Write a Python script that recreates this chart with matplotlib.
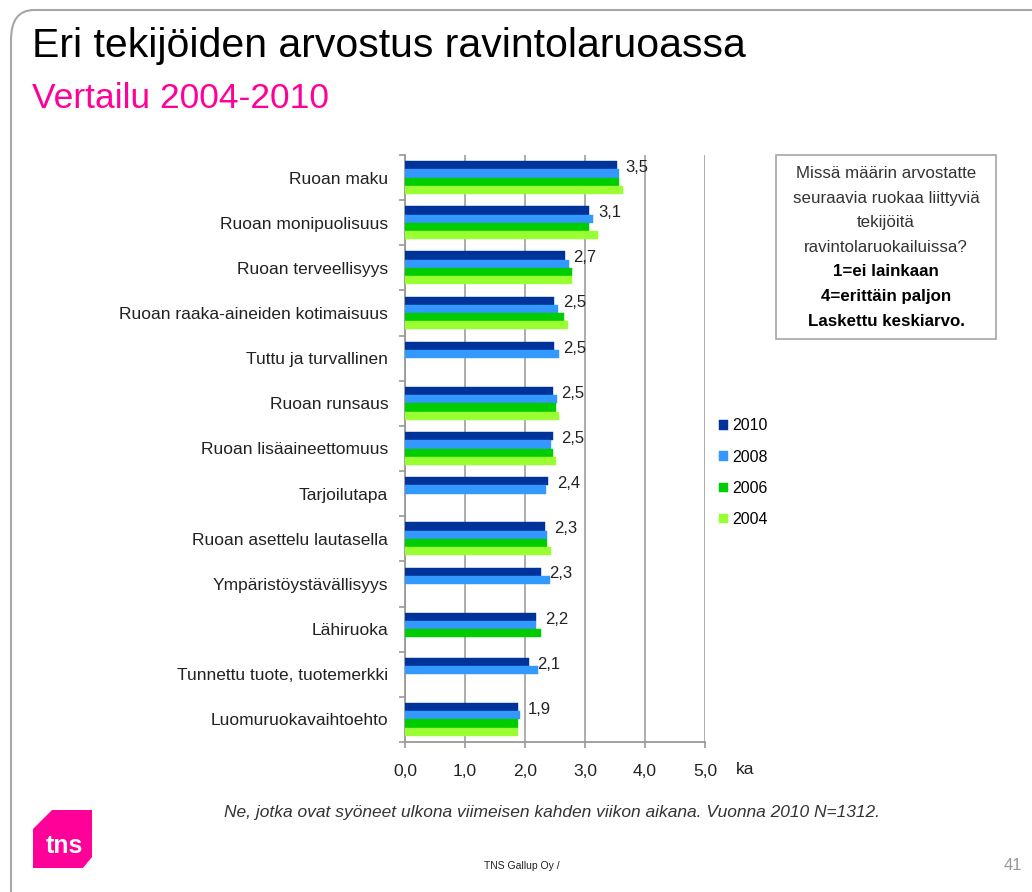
import numpy as np
import matplotlib
matplotlib.use('Agg')
import matplotlib.pyplot as plt
from matplotlib.patches import Polygon, Rectangle, PathPatch
from matplotlib.path import Path

plt.rcParams['font.family'] = ['Liberation Sans', 'DejaVu Sans']

categories = ['Ruoan maku', 'Ruoan monipuolisuus', 'Ruoan terveellisyys',
              'Ruoan raaka-aineiden kotimaisuus', 'Tuttu ja turvallinen',
              'Ruoan runsaus', 'Ruoan lisäaineettomuus', 'Tarjoilutapa',
              'Ruoan asettelu lautasella', 'Ympäristöystävällisyys',
              'Lähiruoka', 'Tunnettu tuote, tuotemerkki', 'Luomuruokavaihtoehto']
years = ['2010', '2008', '2006', '2004']
nan = np.nan
v2010 = [3.53, 3.07, 2.66, 2.48, 2.48, 2.46, 2.46, 2.39, 2.34, 2.26, 2.19, 2.06, 1.89]
v2008 = [3.56, 3.14, 2.74, 2.55, 2.57, 2.53, 2.44, 2.35, 2.37, 2.41, 2.19, 2.21, 1.91]
v2006 = [3.56, 3.07, 2.79, 2.65, nan, 2.51, 2.46, nan, 2.37, nan, 2.26, nan, 1.89]
v2004 = [3.63, 3.21, 2.79, 2.72, nan, 2.57, 2.51, nan, 2.44, nan, nan, nan, 1.89]
colors = ['#003399', '#3399ff', '#00cc00', '#99ff33']

W, H = 1032, 892


def fx(x):
    return x / W


def fy(y):
    return 1 - y / H


fig = plt.figure(figsize=(W / 100, H / 100), dpi=100)

# slide frame with the cut corner
frame = Path([(11, H + 5), (11, 40), (11, 10), (34, 10), (W + 5, 10)],
             [Path.MOVETO, Path.LINETO, Path.CURVE3, Path.CURVE3, Path.LINETO])
frame = Path([(fx(x), fy(y)) for x, y in frame.vertices], frame.codes)
fig.patches.append(PathPatch(frame, transform=fig.transFigure, fill=False,
                             edgecolor='#a6a6a6', lw=1.5))

fig.text(fx(32), fy(46), 'Eri tekijöiden arvostus ravintolaruoassa',
         fontsize=29.5, va='center', ha='left', color='black')
fig.text(fx(32), fy(98), 'Vertailu 2004-2010', fontsize=25.5,
         va='center', ha='left', color='#ff0099')

ax = fig.add_axes([fx(405), 150 / H, 300 / W, 587 / H])
y = np.arange(len(categories))
h = 0.182
series = [v2010, v2008, v2006, v2004]
bars = []
for i, (vals, c) in enumerate(zip(series, colors)):
    b = ax.barh(y + (i - 1.5) * h, vals, height=h, color=c,
                edgecolor=c, lw=0.3, zorder=3)
    bars.append(b)

for yi, v in zip(y, v2010):
    ax.text(v + 0.15, yi - 1.5 * h + 0.05, f'{v:.1f}'.replace('.', ','),
            va='center', ha='left', fontsize=12, color='#222222')

ax.set_xlim(0, 5)
ax.set_ylim(len(categories) - 0.5, -0.5)
ax.set_xticks(np.arange(0, 6))
ax.set_xticklabels([f'{t:.1f}'.replace('.', ',') for t in range(6)],
                   fontsize=12.5, color='#222222')
ax.set_yticks(y)
ax.set_yticklabels(categories, fontsize=12.5, color='#222222')
ax.set_yticks(np.arange(-0.5, len(categories)), minor=True)
ax.tick_params(axis='y', which='major', length=0, pad=12)
ax.tick_params(axis='y', which='minor', length=4, color='#999999', width=1.2)
ax.tick_params(axis='x', length=4, color='#999999', width=1.2, pad=12)
ax.xaxis.grid(True, color='#a6a6a6', lw=1.3)
ax.set_axisbelow(True)
for s in ['top', 'right']:
    ax.spines[s].set_visible(False)
for s in ['left', 'bottom']:
    ax.spines[s].set_color('#999999')
    ax.spines[s].set_linewidth(1.3)

fig.text(fx(736), fy(770), 'ka', fontsize=12.5, va='center', ha='left',
         color='#222222')

fig.legend(bars, years, loc='upper left',
           bbox_to_anchor=(fx(713), fy(412)), frameon=False, fontsize=11.5,
           handlelength=0.55, handleheight=0.55, handletextpad=0.25,
           labelspacing=1.02, borderaxespad=0)

# question box
fig.patches.append(Rectangle((fx(776), fy(339)), (996 - 776) / W, (339 - 155) / H,
                             transform=fig.transFigure, facecolor='white',
                             edgecolor='#a6a6a6', lw=1.2))
box_lines = [('Missä määrin arvostatte', 'normal'),
             ('seuraavia ruokaa liittyviä', 'normal'),
             ('tekijöitä', 'normal'),
             ('ravintolaruokailuissa?', 'normal'),
             ('1=ei lainkaan', 'bold'),
             ('4=erittäin paljon', 'bold'),
             ('Laskettu keskiarvo.', 'bold')]
for k, (txt, wt) in enumerate(box_lines):
    fig.text(fx(886), fy(174 + k * 24.5), txt, ha='center', va='center',
             fontsize=12.2, fontweight=wt,
             color='#333333' if wt == 'normal' else 'black')

fig.text(fx(552), fy(812),
         'Ne, jotka ovat syöneet ulkona viimeisen kahden viikon aikana. Vuonna 2010 N=1312.',
         ha='center', va='center', fontsize=12.5, style='italic', color='#333333')

# logo
logo = [(52, 810), (92, 810), (92, 857), (83, 868), (33, 868), (33, 829)]
fig.patches.append(Polygon([(fx(a), fy(b)) for a, b in logo], closed=True,
                           transform=fig.transFigure, facecolor='#ff0099',
                           edgecolor='none'))
fig.text(fx(64), fy(846), 'tns', color='white', fontsize=18, fontweight='bold',
         ha='center', va='center')

fig.text(fx(522), fy(866), 'TNS Gallup Oy /', fontsize=7.5, ha='center',
         va='center', color='#222222')
fig.text(fx(1022), fy(866), '41', fontsize=12, ha='right', va='center',
         color='#999999')

fig.savefig('out.png', dpi=100, facecolor='white')
